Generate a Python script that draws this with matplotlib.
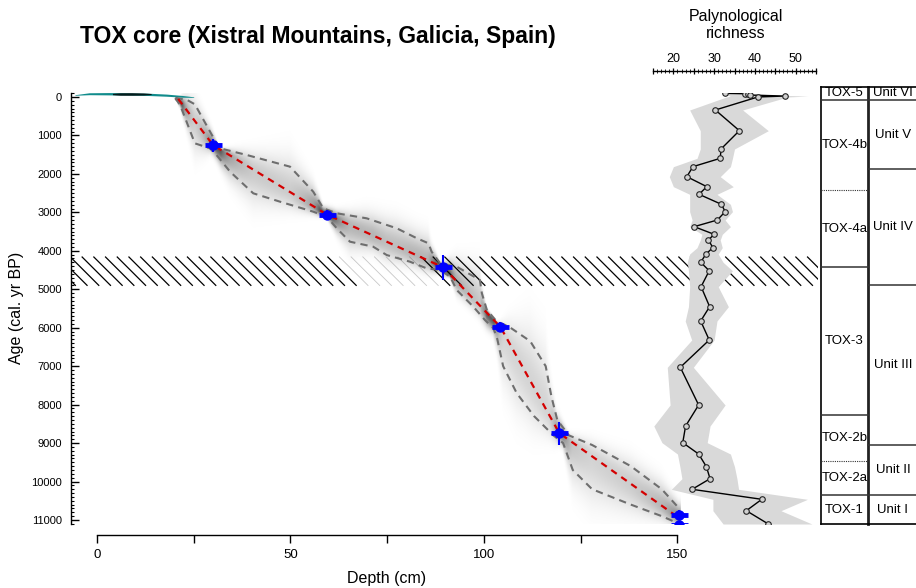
import numpy as np
import matplotlib
matplotlib.use('Agg')
import matplotlib.pyplot as plt
from matplotlib.collections import LineCollection
from matplotlib.ticker import MultipleLocator

plt.rcParams['font.family'] = ['Liberation Sans', 'DejaVu Sans']

# ---------------- data ----------------
# Age-depth model: mean age (red dashed)
mean_depth = [21, 30, 59.5, 89.5, 104.3, 119.5, 150.5]
mean_age = [50, 1250, 3060, 4430, 5980, 8740, 10950]

# 95% range: younger boundary (upper dashed line)
upper_depth = [20.3, 23.3, 25.3, 30.9, 31.8, 38.7, 49.9, 55.9, 58.5, 62, 69.7, 77.5, 82.7,
               85.7, 86.5, 88.7, 93, 99, 99.5, 100.8, 103.4, 106.3, 112, 116, 117.5, 119,
               122, 128, 138, 146, 150.5]
upper_age = [20, 78, 190, 1205, 1335, 1508, 1812, 2463, 2895, 3025, 3155, 3415, 3675,
             3805, 4023, 4325, 4413, 4760, 5105, 5540, 5845, 5960, 6350, 7000, 7800, 8400,
             8800, 9050, 9600, 10200, 10700]

# 95% range: older boundary (lower dashed line)
lower_depth = [20.2, 21.5, 25.3, 26.6, 29.2, 30.9, 34.4, 40.4, 47.3, 55.9, 59.4, 62, 65.4,
               71.4, 74.9, 80.9, 85.2, 88.7, 91.3, 93, 97.3, 100.3, 102.5, 103.5, 105,
               108.5, 113, 118, 120.5, 123, 128, 138, 146, 150.5]
lower_age = [30, 208, 1205, 1248, 1335, 1508, 1942, 2505, 2722, 2982, 3113, 3415, 3763,
             3893, 4110, 4283, 4455, 4500, 4673, 5020, 5454, 5800, 6015, 6300, 7000,
             7700, 8300, 8800, 9000, 9700, 10200, 10600, 10900, 11100]

# Surface (post-bomb) dates at the top
surf_depth = [-5.7, -2, 3, 8, 13, 18, 22, 25]
surf_top = [-60, -110, -115, -110, -100, -75, -40, -5]
surf_bot = [-45, -60, -55, -50, -40, -20, 5, 10]
blob_depth = [4, 6, 9, 12, 14]
blob_top = [-95, -110, -112, -105, -90]
blob_bot = [-60, -45, -45, -50, -65]

# Radiocarbon dates (blue)
date_depth = [30, 59.5, 89.5, 104.3, 119.5, 150.5, 150.5]
date_age = [1250, 3060, 4430, 5980, 8740, 10870, 11130]
date_err = [170, 130, 320, 120, 300, 120, 80]

# Hiatus band (hatched)
hiatus_top, hiatus_bot = 4150, 4910

# Palynological richness
rich_age = [-95, -85, -70, -50, -25, 0, 338, 876, 1352, 1595, 1812, 2072, 2332, 2531, 2791,
            2982, 3199, 3372, 3571, 3719, 3919, 4083, 4299, 4518, 4933, 5453, 5826, 6320,
            7030, 8010, 8557, 8990, 9285, 9615, 9927, 10203, 10463, 10759, 11105]
rich_val = [32.6, 37.5, 38.2, 38.9, 47.3, 40.7, 30.3, 36.2, 31.7, 31.5, 24.8, 23.3, 28.2,
            26.3, 31.8, 32.7, 30.8, 25.1, 30.0, 28.6, 29.7, 28.0, 26.7, 28.8, 26.8, 28.9,
            26.7, 28.8, 21.7, 26.2, 23.0, 22.3, 26.2, 28.1, 29.0, 24.6, 41.7, 37.9, 43.3]
rich_lo = [32, 33, 33, 33, 34, 33, 24, 26.6, 26.6, 25.8, 20, 19, 20, 24, 24, 24, 24.6, 24,
           27, 26.6, 25.8, 24, 23.4, 23.7, 24, 23.7, 22.9, 24.5, 18.5, 19.2, 15.2, 17.2,
           21, 21.6, 22.1, 19.5, 29.7, 29.7, 32.2]
rich_hi = [33, 40, 42, 45, 53, 48, 37, 43.3, 35, 34.5, 34, 31.5, 34.7, 30.7, 34, 34.5, 32.7,
           34, 32, 31.5, 32, 31, 32.2, 34.5, 31, 33.5, 30.7, 30, 24.9, 32.7, 29, 28.3, 34,
           35, 35.6, 36, 52.9, 46.4, 54]

# Zonation table
tox_names = ['TOX-5', 'TOX-4b', 'TOX-4a', 'TOX-3', 'TOX-2b', 'TOX-2a', 'TOX-1']
tox_bounds = [-260, 78, 2419, 4421, 8270, 9467, 10351, 11105]
tox_dotted = [False, True, False, False, True, False]
unit_names = ['Unit VI', 'Unit V', 'Unit IV', 'Unit III', 'Unit II', 'Unit I']
unit_bounds = [-260, 78, 1873, 4889, 9050, 10351, 11105]

depth_ticks = [0, 25, 50, 75, 100, 125, 150]
depth_ticklabels = ['0', '', '50', '', '100', '', '150']
age_ticks = list(range(0, 11001, 1000))
rich_ticks = [15, 20, 25, 30, 35, 40, 45, 50, 55]
rich_ticklabels = ['', '20', '', '30', '', '40', '', '50', '']

# ---------------- figure ----------------
W, H = 916, 588
fig = plt.figure(figsize=(W / 100, H / 100), dpi=100)

ax = fig.add_axes([71 / W, 1 - 524 / H, 747 / W, 431 / H])
ax.set_xlim(-6.72, 186.4)
ax.set_ylim(11105, -104)

# hatched hiatus band drawn as 45-degree lines
t = ax.transData
p0 = t.transform((0, 0))
p1 = t.transform((1, 1000))
ppd = p1[0] - p0[0]                 # px per cm
ppy = abs(p1[1] - p0[1]) / 1000.0   # px per year
dd = (hiatus_bot - hiatus_top) * ppy / ppd
step = 11.7 / ppd
start = (70 - 97) / ppd
segs_full, segs_faint = [], []
for k in range(-3, 70):
    d0 = start + k * step
    seg = [(d0, hiatus_top), (d0 + dd, hiatus_bot)]
    if 23 <= k <= 29:
        segs_faint.append(seg)
    else:
        segs_full.append(seg)
ax.add_collection(LineCollection(segs_full, colors='black', linewidths=0.9, zorder=1))
ax.add_collection(LineCollection(segs_faint, colors='#c8c8c8', linewidths=0.6, zorder=1))

# gradient envelope
dg = np.linspace(19, 152, 500)
ag = np.linspace(-150, 11300, 900)
m = np.interp(dg, mean_depth, mean_age)
lo = np.minimum(np.interp(dg, upper_depth, upper_age), m - 20)
hi = np.maximum(np.interp(dg, lower_depth, lower_age), m + 20)
D, A = np.meshgrid(dg, ag)
M, LO, HI = m[None, :], lo[None, :], hi[None, :]
S = np.where(A < M, (M - LO) / 1.15, (HI - M) / 1.15)
dark = np.clip(200.0 / (HI - LO), 0.17, 0.65)
alpha = dark * np.exp(-0.5 * ((A - M) / S) ** 2)
valid = (D >= mean_depth[0] - 0.8) & (D <= mean_depth[-1] + 0.5)
alpha = np.where(valid, alpha, 0.0)
rgba = np.zeros(A.shape + (4,))
rgba[..., 3] = alpha
ax.imshow(rgba, extent=(dg[0], dg[-1], ag[-1], ag[0]), origin='upper', aspect='auto',
          interpolation='bilinear', zorder=2)
ax.set_xlim(-6.72, 186.4)
ax.set_ylim(11105, -104)

# surface dates
ax.fill_between(surf_depth, surf_top, surf_bot, color='#118c8c', lw=0, zorder=3)
ax.fill_between(blob_depth, blob_top, blob_bot, color='black', alpha=0.8, lw=0, zorder=3)

# envelope lines and mean
ax.plot(upper_depth, upper_age, color='#6e6e6e', lw=1.5, ls=(0, (3.5, 2.5)), zorder=4)
ax.plot(lower_depth, lower_age, color='#6e6e6e', lw=1.5, ls=(0, (3.5, 2.5)), zorder=4)
ax.plot(mean_depth, mean_age, color='#d40000', lw=1.6, ls=(0, (3, 2.5)), zorder=5)

# dates
ax.errorbar(date_depth, date_age, yerr=date_err, fmt='none', ecolor='#0000ff',
            elinewidth=1.5, capsize=0, zorder=6)
ax.errorbar(date_depth, date_age, xerr=2.2, fmt='none', ecolor='#0000ff',
            elinewidth=3.5, capsize=0, zorder=6)
ax.plot(date_depth, date_age, 'o', color='#0000ff', ms=6.5, zorder=6)

# axes styling
for s in ['top', 'right']:
    ax.spines[s].set_visible(False)
ax.spines['left'].set_linewidth(1)
ax.spines['bottom'].set_bounds(0, 150)
ax.spines['bottom'].set_position(('outward', 7.9))
ax.spines['bottom'].set_linewidth(1)
ax.set_xticks(depth_ticks)
ax.set_xticklabels(depth_ticklabels)
ax.set_yticks(age_ticks)
ax.set_yticklabels([str(a) for a in age_ticks])
ax.yaxis.set_minor_locator(MultipleLocator(100))
ax.tick_params(axis='x', direction='out', length=6, width=1, labelsize=9.5, pad=4)
ax.tick_params(axis='y', which='major', direction='in', length=5.5, width=1,
               labelsize=8, pad=6.5)
ax.tick_params(axis='y', which='minor', direction='in', length=2.5, width=0.8)

# richness panel
ax2 = fig.add_axes([653 / W, 1 - 524 / H, 163 / W, 431 / H])
ax2.patch.set_visible(False)
ax2.set_xlim(15, 55)
ax2.set_ylim(11105, -104)
ax2.fill_betweenx(rich_age, rich_lo, rich_hi, color='#d9d9d9', lw=0, zorder=1)
ax2.plot(rich_val, rich_age, color='black', lw=1, marker='o', ms=4, mfc='#d0d0d0',
         mec='#222222', mew=0.8, zorder=3)
for s in ['bottom', 'left', 'right']:
    ax2.spines[s].set_visible(False)
ax2.spines['top'].set_position(('outward', 15.8))
ax2.spines['top'].set_linewidth(1)
ax2.xaxis.tick_top()
ax2.set_xticks(rich_ticks)
ax2.set_xticklabels(rich_ticklabels)
ax2.xaxis.set_minor_locator(MultipleLocator(1))
ax2.tick_params(axis='x', which='major', direction='inout', length=4, width=0.9,
                labelsize=9, pad=2.5)
ax2.tick_params(axis='x', which='minor', direction='inout', length=2.5, width=0.6)
ax2.set_yticks([])

# zonation table
ax3 = fig.add_axes([821 / W, 1 - 524 / H, 99 / W, 437 / H])
ax3.set_xlim(0, 1)
ax3.set_ylim(11105, -260)
ax3.axis('off')
xm = 0.475
ax3.plot([0, 0], [tox_bounds[0], tox_bounds[-1]], color='black', lw=1.2, clip_on=False)
ax3.plot([xm, xm], [tox_bounds[0], tox_bounds[-1]], color='#222222', lw=2, clip_on=False)
ax3.plot([0, 1], [tox_bounds[0]] * 2, color='black', lw=1.2, clip_on=False)
ax3.plot([0, 1], [tox_bounds[-1]] * 2, color='black', lw=1.2, clip_on=False)
for b, dot in zip(tox_bounds[1:-1], tox_dotted):
    if dot:
        ax3.plot([0, xm], [b, b], color='#333333', lw=0.8, ls=(0, (1, 1)), clip_on=False)
    else:
        ax3.plot([0, xm], [b, b], color='#333333', lw=1.1, clip_on=False)
for b in unit_bounds[1:-1]:
    ax3.plot([xm, 1], [b, b], color='#333333', lw=1.1, clip_on=False)
for i, nm in enumerate(tox_names):
    ax3.text(0.237, (tox_bounds[i] + tox_bounds[i + 1]) / 2, nm, ha='center', va='center',
             fontsize=9.5)
for i, nm in enumerate(unit_names):
    ax3.text(0.727, (unit_bounds[i] + unit_bounds[i + 1]) / 2, nm, ha='center', va='center',
             fontsize=9.5)

# texts
fig.text(80 / W, 1 - 36 / H, 'TOX core (Xistral Mountains, Galicia, Spain)', ha='left',
         va='center', fontsize=16.5, fontweight='bold')
fig.text(736 / W, 1 - 25 / H, 'Palynological\nrichness', ha='center', va='center',
         fontsize=11.5, linespacing=1.15)
fig.text(17 / W, 1 - 308 / H, 'Age (cal. yr BP)', rotation=90, ha='center', va='center',
         fontsize=11.5)
fig.text(387 / W, 1 - 578 / H, 'Depth (cm)', ha='center', va='center', fontsize=11.5)

fig.savefig('out.png', dpi=100)
